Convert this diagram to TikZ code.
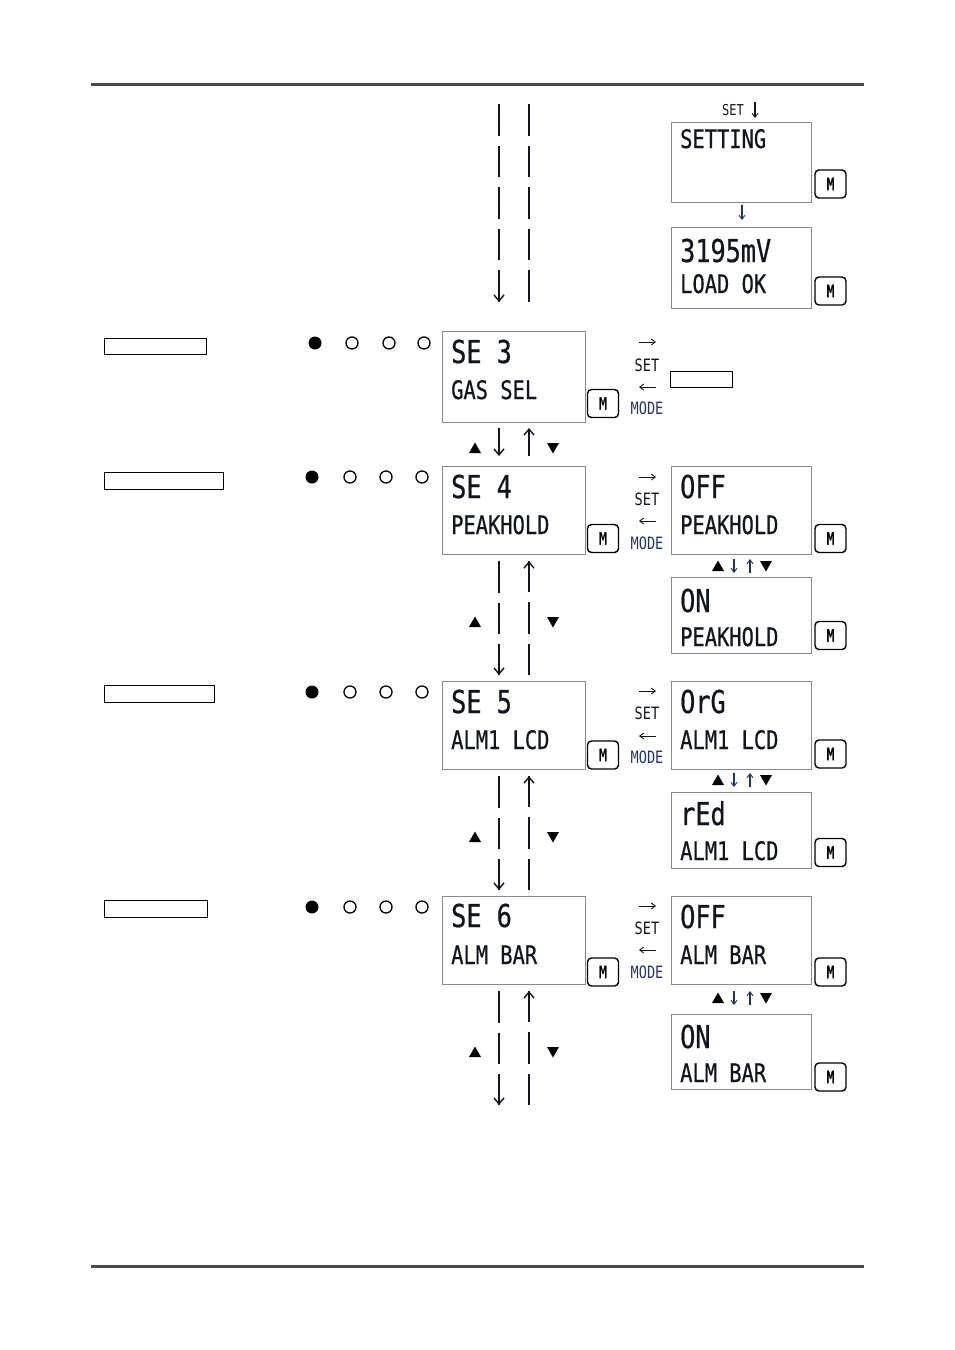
\documentclass[tikz,border=0pt]{standalone}
\usepackage{fontspec}
\usetikzlibrary{arrows.meta}
\newfontfamily\lcd[FakeStretch=0.8]{DejaVu Sans Mono}
\newfontfamily\lcdb[FakeStretch=0.8,FakeBold=0.6]{DejaVu Sans Mono}
\newfontfamily\lcdm[FakeStretch=0.75,FakeBold=1.5]{DejaVu Sans Mono}
\definecolor{rulegray}{HTML}{4A4A4A}
\definecolor{boxgray}{HTML}{8A8A8A}
\definecolor{navy}{HTML}{1E3470}
\definecolor{ink}{HTML}{101522}
\tikzset{
  lcdbox/.style={draw=boxgray, line width=0.9pt, inner sep=0, anchor=north west},
  mbtn/.style={draw=black, line width=1.4pt, rounded corners=4pt, minimum width=31pt, minimum height=28pt, inner sep=0, font=\lcdm\fontsize{17}{17}\selectfont},
  bigtxt/.style={anchor=base west, inner sep=0, text=ink, font=\lcdb\fontsize{31.5}{32}\selectfont},
  smalltxt/.style={anchor=base west, inner sep=0, text=ink, font=\lcdb\fontsize{25.5}{26}\selectfont},
  lbl/.style={inner sep=0, text=ink, font=\lcd\fontsize{17}{17}\selectfont},
  modelbl/.style={inner sep=0, text=navy, font=\lcd\fontsize{17}{17}\selectfont},
  labelbox/.style={draw=black, line width=1.2pt, inner sep=0, anchor=north west},
  dotf/.style={circle, fill=black, minimum size=13pt, inner sep=0},
  doto/.style={circle, draw=black, line width=1.3pt, minimum size=12pt, inner sep=0},
  dashline/.style={draw=ink, line width=2.6pt, dash pattern=on 31.5pt off 10pt},
  bigarrow/.style={draw=ink, line width=2pt, -{Straight Barb[length=6pt,width=10pt,line width=1.4pt]}},
  smallarrow/.style={draw=ink, line width=1pt, -{Straight Barb[length=4pt,width=6pt,line width=0.9pt]}},
  navyarrow/.style={draw=navy, line width=1.1pt, -{Straight Barb[length=4pt,width=6pt,line width=0.9pt]}},
  tiponly/.style={draw=ink, line width=0pt, -{Straight Barb[length=6pt,width=10pt,line width=1.4pt]}},
}
\newcommand\uptri[2]{\fill[black] ({#1-6},{#2+5}) -- ({#1+6},{#2+5}) -- ({#1},{#2-5.5}) -- cycle;}
\newcommand\dntri[2]{\fill[black] ({#1-6},{#2-5}) -- ({#1+6},{#2-5}) -- ({#1},{#2+5.5}) -- cycle;}
\begin{document}
\begin{tikzpicture}[x=1pt,y=-1pt]
\useasboundingbox (0,0) rectangle (954,1350);
% rules
\draw[rulegray, line width=3pt] (91,84) -- (864,84);
\draw[rulegray, line width=3pt] (91,1266) -- (864,1266);

% ---------- top dashed lines ----------
\coordinate (tl1) at (499,104); \coordinate (tl2) at (499,302);
\coordinate (tr1) at (529,104); \coordinate (tr2) at (529,302);
\draw[dashline] (tl1) -- (tl2);
\draw[dashline] (tr1) -- (tr2);
\draw[tiponly] (499,295) -- (tl2);

% ---------- top right: SETTING ----------
\node[lbl, font=\lcd\fontsize{15}{15}\selectfont] (setlbl) at (733,110) {SET};
\coordinate (sa1) at (755,102); \coordinate (sa2) at (755,118);
\draw[navyarrow, draw=ink] (sa1) -- (sa2);
\node[lcdbox, minimum width=140pt, minimum height=80pt] (setting) at (671,122) {};
\node[smalltxt] (settingt) at (680,148) {SETTING};
\node[mbtn] (mS) at (830.5,184) {M};
\coordinate (sb1) at (742,205); \coordinate (sb2) at (742,220);
\draw[navyarrow] (sb1) -- (sb2);
\node[lcdbox, minimum width=140pt, minimum height=81pt] (load) at (671,227) {};
\node[bigtxt] (loada) at (680,262) {3195mV};
\node[smalltxt] (loadb) at (680,293) {LOAD OK};
\node[mbtn] (mL) at (830.5,291) {M};

% ---------- SE 3 ----------
\node[labelbox, minimum width=102pt, minimum height=16pt] (lb3) at (104,338) {};
\node[dotf] (d31) at (315,343) {};
\node[doto] (d32) at (352,343) {};
\node[doto] (d33) at (389,343) {};
\node[doto] (d34) at (424,343) {};
\node[lcdbox, minimum width=143pt, minimum height=91pt] (se3) at (442,331) {};
\node[bigtxt] (se3a) at (451,363) {SE 3};
\node[smalltxt] (se3b) at (451,399) {GAS SEL};
\node[mbtn] (m3) at (603,403.5) {M};
\coordinate (r3a) at (639,342); \coordinate (r3b) at (656,342);
\draw[smallarrow] (r3a) -- (r3b);
\node[lbl] (set3) at (647,365) {SET};
\coordinate (r3c) at (656,387); \coordinate (r3d) at (639,387);
\draw[smallarrow] (r3c) -- (r3d);
\node[modelbl] (mode3) at (647,408) {MODE};
\node[labelbox, minimum width=62pt, minimum height=16pt] (rb3) at (670,371) {};

% SE3 -> SE4
\coordinate (a34l1) at (499,428); \coordinate (a34l2) at (499,456);
\coordinate (a34r1) at (529,456); \coordinate (a34r2) at (529,428);
\draw[bigarrow] (a34l1) -- (a34l2);
\draw[bigarrow] (a34r1) -- (a34r2);
\uptri{475}{448}
\dntri{553}{448}

% ---------- SE 4 ----------
\node[labelbox, minimum width=119pt, minimum height=17pt] (lb4) at (104,472) {};
\node[dotf] (d41) at (312,477) {};
\node[doto] (d42) at (350,477) {};
\node[doto] (d43) at (386,477) {};
\node[doto] (d44) at (422,477) {};
\node[lcdbox, minimum width=143pt, minimum height=88pt] (se4) at (442,466) {};
\node[bigtxt] (se4a) at (451,498) {SE 4};
\node[smalltxt] (se4b) at (451,534) {PEAKHOLD};
\node[mbtn] (m4) at (603,538.5) {M};
\coordinate (r4a) at (639,477); \coordinate (r4b) at (656,477);
\draw[smallarrow] (r4a) -- (r4b);
\node[lbl] (set4) at (647,499) {SET};
\coordinate (r4c) at (656,521); \coordinate (r4d) at (639,521);
\draw[smallarrow] (r4c) -- (r4d);
\node[modelbl] (mode4) at (647,543) {MODE};
\node[lcdbox, minimum width=140pt, minimum height=88pt] (offpk) at (671,466) {};
\node[bigtxt] (offpka) at (680,498) {OFF};
\node[smalltxt] (offpkb) at (680,534) {PEAKHOLD};
\node[mbtn] (mOP) at (830.5,538.5) {M};
\uptri{718}{566}
\coordinate (p4a) at (734,559); \coordinate (p4b) at (734,573);
\draw[navyarrow] (p4a) -- (p4b);
\coordinate (p4c) at (750,573); \coordinate (p4d) at (750,559);
\draw[navyarrow] (p4c) -- (p4d);
\dntri{766}{566}
\node[lcdbox, minimum width=140pt, minimum height=76pt] (onpk) at (671,577) {};
\node[bigtxt] (onpka) at (680,612) {ON};
\node[smalltxt] (onpkb) at (680,646) {PEAKHOLD};
\node[mbtn] (mON) at (830.5,635.5) {M};

% SE4 -> SE5
\coordinate (a45l1) at (499,561); \coordinate (a45l2) at (499,675);
\coordinate (a45r1) at (529,675); \coordinate (a45r2) at (529,561);
\draw[dashline] (a45l1) -- (a45l2);
\draw[dashline] (a45r1) -- (a45r2);
\draw[tiponly] (499,668) -- (a45l2);
\draw[tiponly] (529,568) -- (a45r2);
\uptri{475}{622}
\dntri{553}{622}

% ---------- SE 5 ----------
\node[labelbox, minimum width=110pt, minimum height=17pt] (lb5) at (104,685) {};
\node[dotf] (d51) at (312,692) {};
\node[doto] (d52) at (350,692) {};
\node[doto] (d53) at (386,692) {};
\node[doto] (d54) at (422,692) {};
\node[lcdbox, minimum width=143pt, minimum height=88pt] (se5) at (442,681) {};
\node[bigtxt] (se5a) at (451,713) {SE 5};
\node[smalltxt] (se5b) at (451,749) {ALM1 LCD};
\node[mbtn] (m5) at (603,755) {M};
\coordinate (r5a) at (639,691); \coordinate (r5b) at (656,691);
\draw[smallarrow] (r5a) -- (r5b);
\node[lbl] (set5) at (647,713) {SET};
\coordinate (r5c) at (656,736); \coordinate (r5d) at (639,736);
\draw[smallarrow] (r5c) -- (r5d);
\node[modelbl] (mode5) at (647,757) {MODE};
\node[lcdbox, minimum width=140pt, minimum height=88pt] (org) at (671,681) {};
\node[bigtxt] (orga) at (680,713) {OrG};
\node[smalltxt] (orgb) at (680,749) {ALM1 LCD};
\node[mbtn] (mOrG) at (830.5,754) {M};
\uptri{718}{780}
\coordinate (p5a) at (734,773); \coordinate (p5b) at (734,787);
\draw[navyarrow] (p5a) -- (p5b);
\coordinate (p5c) at (750,787); \coordinate (p5d) at (750,773);
\draw[navyarrow] (p5c) -- (p5d);
\dntri{766}{780}
\node[lcdbox, minimum width=140pt, minimum height=76pt] (red) at (671,792) {};
\node[bigtxt] (reda) at (680,825) {rEd};
\node[smalltxt] (redb) at (680,860) {ALM1 LCD};
\node[mbtn] (mRed) at (830.5,852.5) {M};

% SE5 -> SE6
\coordinate (a56l1) at (499,776); \coordinate (a56l2) at (499,890);
\coordinate (a56r1) at (529,890); \coordinate (a56r2) at (529,776);
\draw[dashline] (a56l1) -- (a56l2);
\draw[dashline] (a56r1) -- (a56r2);
\draw[tiponly] (499,883) -- (a56l2);
\draw[tiponly] (529,783) -- (a56r2);
\uptri{475}{837}
\dntri{553}{837}

% ---------- SE 6 ----------
\node[labelbox, minimum width=103pt, minimum height=17pt] (lb6) at (104,900) {};
\node[dotf] (d61) at (312,907) {};
\node[doto] (d62) at (350,907) {};
\node[doto] (d63) at (386,907) {};
\node[doto] (d64) at (422,907) {};
\node[lcdbox, minimum width=143pt, minimum height=88pt] (se6) at (442,896) {};
\node[bigtxt] (se6a) at (451,927) {SE 6};
\node[smalltxt] (se6b) at (451,964) {ALM BAR};
\node[mbtn] (m6) at (603,972) {M};
\coordinate (r6a) at (639,906); \coordinate (r6b) at (656,906);
\draw[smallarrow] (r6a) -- (r6b);
\node[lbl] (set6) at (647,928) {SET};
\coordinate (r6c) at (656,950); \coordinate (r6d) at (639,950);
\draw[smallarrow] (r6c) -- (r6d);
\node[modelbl] (mode6) at (647,972) {MODE};
\node[lcdbox, minimum width=140pt, minimum height=88pt] (offbar) at (671,896) {};
\node[bigtxt] (offbara) at (680,928) {OFF};
\node[smalltxt] (offbarb) at (680,964) {ALM BAR};
\node[mbtn] (mOB) at (830.5,972) {M};
\uptri{718}{998}
\coordinate (p6a) at (734,991); \coordinate (p6b) at (734,1005);
\draw[navyarrow] (p6a) -- (p6b);
\coordinate (p6c) at (750,1005); \coordinate (p6d) at (750,991);
\draw[navyarrow] (p6c) -- (p6d);
\dntri{766}{998}
\node[lcdbox, minimum width=140pt, minimum height=75pt] (onbar) at (671,1014) {};
\node[bigtxt] (onbara) at (680,1048) {ON};
\node[smalltxt] (onbarb) at (680,1082) {ALM BAR};
\node[mbtn] (mONB) at (830.5,1077) {M};

% below SE6
\coordinate (a6l1) at (499,991); \coordinate (a6l2) at (499,1105);
\coordinate (a6r1) at (529,1105); \coordinate (a6r2) at (529,991);
\draw[dashline] (a6l1) -- (a6l2);
\draw[dashline] (a6r1) -- (a6r2);
\draw[tiponly] (499,1098) -- (a6l2);
\draw[tiponly] (529,998) -- (a6r2);
\uptri{475}{1052}
\dntri{553}{1052}
\end{tikzpicture}
\end{document}
